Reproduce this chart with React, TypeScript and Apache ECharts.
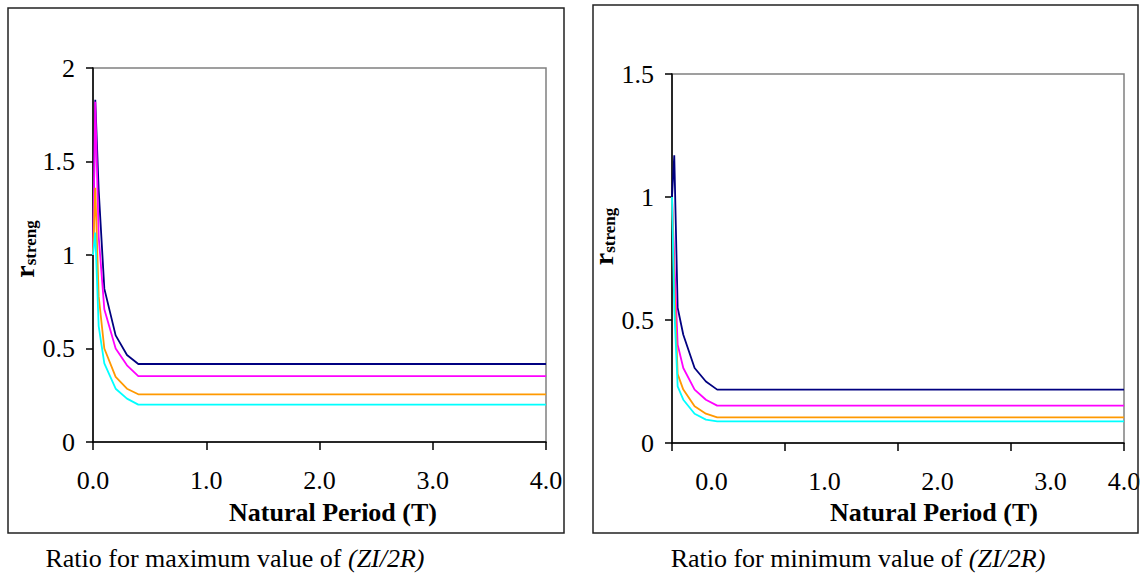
import React, { useEffect, useRef } from 'react';
import * as echarts from 'echarts';

// Natural period T (s)
const periods = [0, 0.02, 0.05, 0.1, 0.2, 0.3, 0.4, 4.0];

// Ratio for maximum value of (ZI/2R)
const maxNavy = [1.0, 1.83, 1.35, 0.82, 0.57, 0.465, 0.417, 0.417];
const maxMagenta = [1.0, 1.82, 1.1, 0.71, 0.5, 0.41, 0.352, 0.352];
const maxOrange = [1.0, 1.36, 0.78, 0.5, 0.348, 0.285, 0.255, 0.255];
const maxCyan = [1.0, 1.12, 0.62, 0.42, 0.285, 0.232, 0.2, 0.2];

// Ratio for minimum value of (ZI/2R)
const minNavy = [1.0, 1.17, 0.55, 0.44, 0.305, 0.25, 0.217, 0.217];
const minMagenta = [1.0, 0.75, 0.4, 0.305, 0.217, 0.176, 0.152, 0.152];
const minOrange = [1.0, 0.65, 0.28, 0.217, 0.149, 0.119, 0.104, 0.104];
const minCyan = [1.0, 0.55, 0.23, 0.176, 0.119, 0.095, 0.088, 0.088];

const leftYTicks = { min: 0, max: 2, interval: 0.5 };
const rightYTicks = { min: 0, max: 1.5, interval: 0.5 };
const xTicks = { min: 0, max: 4, interval: 1 };

const rightXLabelValues = [0.35, 1.35, 2.35, 3.35, 4.0];
const rightXLabelTexts = ['0.0', '1.0', '2.0', '3.0', '4.0'];

const xTitle = 'Natural Period (T)';
const leftCaption = 'Ratio for maximum value of ';
const rightCaption = 'Ratio for minimum value of ';
const captionItalic = '(ZI/2R)';

const colors = ['#000080', '#FF00FF', '#FF9900', '#00FFFF'];
const FONT = '"Liberation Serif", "Times New Roman", serif';

const pair = (ys: number[]) => periods.map((t, i) => [t, ys[i]]);

export default function App() {
  const ref = useRef<HTMLDivElement>(null);
  useEffect(() => {
    const chart = echarts.init(ref.current!, null, { renderer: 'svg' });
    const yName = (shiftUp: number) => ({
      name: '{r|r}{s|streng}',
      nameLocation: 'middle',
      nameRotate: 90,
      nameTextStyle: {
        padding: [0, 0, 0, shiftUp * 2],
        rich: {
          r: { fontFamily: FONT, fontWeight: 'bold', fontSize: 28, color: '#000', lineHeight: 28 },
          s: { fontFamily: FONT, fontWeight: 'bold', fontSize: 17, color: '#000', lineHeight: 17, verticalAlign: 'bottom', padding: [6, 0, 0, 0] },
        },
      },
    });
    const axisLine = { show: true, lineStyle: { color: '#000', width: 1.5 } };
    const labelStyle = { fontFamily: FONT, fontSize: 26, color: '#000' };
    const mkSeries = (idx: number, arrs: number[][]) =>
      arrs.map((a, i) => ({
        type: 'line',
        xAxisIndex: idx,
        yAxisIndex: idx,
        data: pair(a),
        showSymbol: false,
        lineStyle: { color: colors[i], width: 1.8 },
        itemStyle: { color: colors[i] },
      }));
    const captionRich = {
      n: { fontFamily: FONT, fontSize: 26, fill: '#000' },
      i: { fontFamily: FONT, fontSize: 26, fontStyle: 'italic', fill: '#000' },
    };
    const option: any = {
      animation: false,
      backgroundColor: '#fff',
      grid: [
        { left: 93, top: 68, width: 453, height: 374, show: true, borderColor: '#808080', borderWidth: 1.5 },
        { left: 672, top: 74, width: 452, height: 369, show: true, borderColor: '#808080', borderWidth: 1.5 },
      ],
      xAxis: [
        {
          type: 'value', gridIndex: 0, ...xTicks,
          axisLine, splitLine: { show: false },
          axisTick: { show: true, length: 8, lineStyle: { color: '#000', width: 1.5 } },
          axisLabel: { ...labelStyle, margin: 25, formatter: (v: number) => v.toFixed(1) },
        },
        {
          type: 'value', gridIndex: 1, ...xTicks,
          axisLine, splitLine: { show: false },
          axisTick: { show: true, length: 8, lineStyle: { color: '#000', width: 1.5 } },
          axisLabel: {
            ...labelStyle, margin: 25, customValues: rightXLabelValues, showMaxLabel: true,
            formatter: (v: number) => {
              const i = rightXLabelValues.findIndex((x) => Math.abs(x - v) < 1e-6);
              return i >= 0 ? rightXLabelTexts[i] : '';
            },
          },
        },
      ],
      yAxis: [
        {
          type: 'value', gridIndex: 0, ...leftYTicks, ...yName(6), nameGap: 45,
          axisLine, splitLine: { show: false },
          axisTick: { show: true, length: 7, lineStyle: { color: '#000', width: 1.5 } },
          axisLabel: { ...labelStyle, margin: 18 },
        },
        {
          type: 'value', gridIndex: 1, ...rightYTicks, ...yName(22), nameGap: 47,
          axisLine, splitLine: { show: false },
          axisTick: { show: true, length: 7, lineStyle: { color: '#000', width: 1.5 } },
          axisLabel: { ...labelStyle, margin: 18 },
        },
      ],
      series: [
        ...mkSeries(0, [maxNavy, maxMagenta, maxOrange, maxCyan]),
        ...mkSeries(1, [minNavy, minMagenta, minOrange, minCyan]),
      ],
      graphic: [
        { type: 'rect', z: 100, shape: { x: 8, y: 8, width: 556, height: 525 }, style: { fill: 'none', stroke: '#222', lineWidth: 1.5 } },
        { type: 'rect', z: 100, shape: { x: 593, y: 5, width: 545, height: 528 }, style: { fill: 'none', stroke: '#222', lineWidth: 1.5 } },
        { type: 'text', x: 333, y: 512, style: { text: xTitle, fontFamily: FONT, fontWeight: 'bold', fontSize: 26, fill: '#000', align: 'center', verticalAlign: 'middle' } },
        { type: 'text', x: 934, y: 512, style: { text: xTitle, fontFamily: FONT, fontWeight: 'bold', fontSize: 26, fill: '#000', align: 'center', verticalAlign: 'middle' } },
        {
          type: 'text', x: 235, y: 558,
          style: { text: '{n|' + leftCaption + '}{i|' + captionItalic + '}', align: 'center', verticalAlign: 'middle', rich: captionRich },
        },
        {
          type: 'text', x: 858, y: 558,
          style: { text: '{n|' + rightCaption + '}{i|' + captionItalic + '}', align: 'center', verticalAlign: 'middle', rich: captionRich },
        },
      ],
    };
    chart.setOption(option);
    return () => chart.dispose();
  }, []);
  return <div ref={ref} style={{ position: 'absolute', left: 0, top: 0, width: 1145, height: 582, background: '#fff' }} />;
}
